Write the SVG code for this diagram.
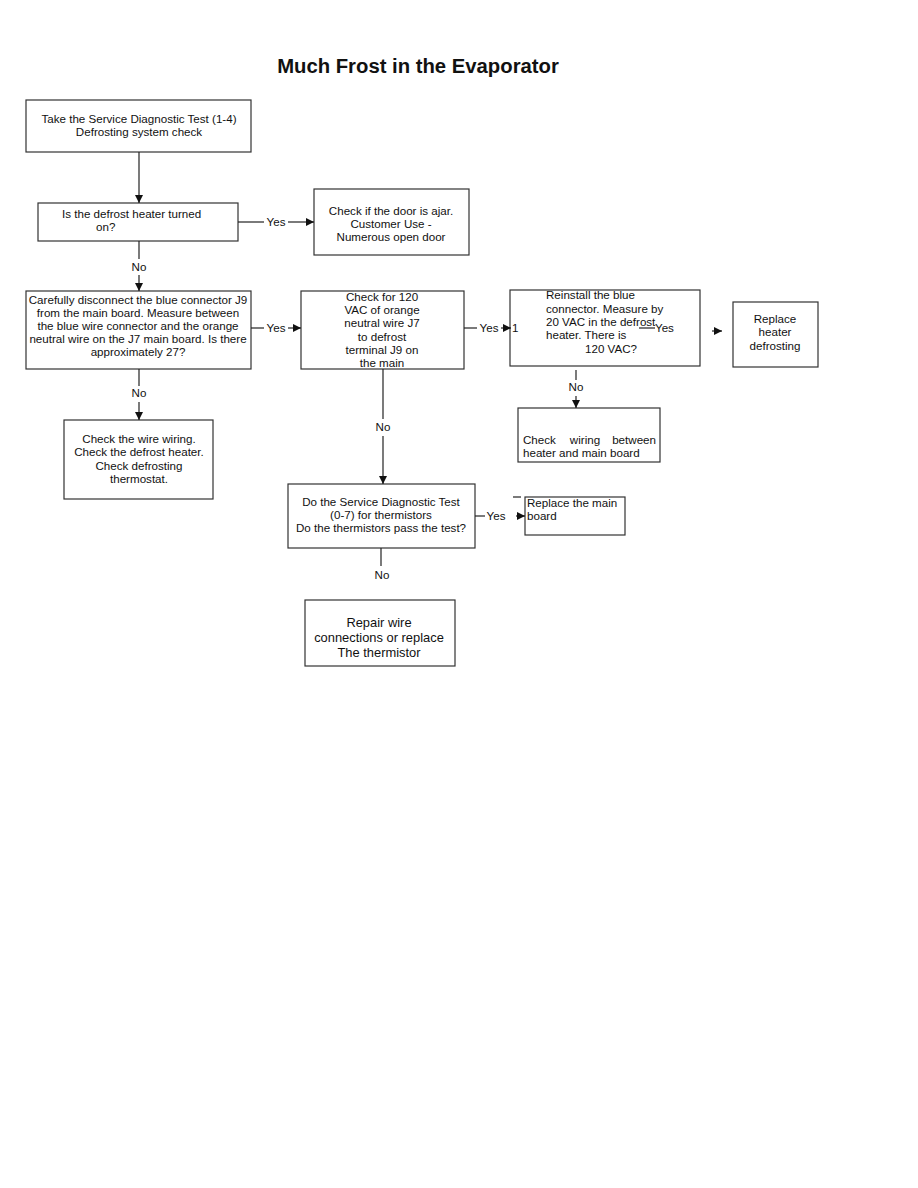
<svg xmlns="http://www.w3.org/2000/svg" width="918" height="1188" viewBox="0 0 918 1188">
<style>
.box{fill:#fff;stroke:#333;stroke-width:1.2}
.t{font-family:"Liberation Sans",Arial,sans-serif;font-size:11.6px;fill:#111}
.c{text-anchor:middle}
.e{text-anchor:end}
.ln{stroke:#222;stroke-width:1.2;fill:none}
.big{font-size:12.9px}
</style>
<defs>
<marker id="ah" viewBox="0 0 10 10" refX="10" refY="5" markerWidth="8" markerHeight="8" markerUnits="userSpaceOnUse" orient="auto">
<path d="M0,0 L10,5 L0,10 z" fill="#111"/>
</marker>
</defs>
<rect width="918" height="1188" fill="#fff"/>
<text x="418" y="73" class="t c" style="font-size:20.3px;font-weight:bold">Much Frost in the Evaporator</text>

<g id="n1">
<rect class="box" x="26" y="100" width="225" height="52"/>
<text x="139" y="123" class="t c">Take the Service Diagnostic Test (1-4)</text>
<text x="139" y="136" class="t c">Defrosting system check</text>
</g>
<g id="n2">
<rect class="box" x="38" y="203" width="200" height="38"/>
<text x="62" y="218" class="t">Is the defrost heater turned</text>
<text x="96" y="231" class="t">on?</text>
</g>
<g id="n3">
<rect class="box" x="314" y="189" width="155" height="66"/>
<text x="391" y="215" class="t c">Check if the door is ajar.</text>
<text x="391" y="228" class="t c">Customer Use -</text>
<text x="391" y="241" class="t c">Numerous open door</text>
</g>
<g id="n4">
<rect class="box" x="26" y="291" width="225" height="78"/>
<text x="138" y="304" class="t c">Carefully disconnect the blue connector J9</text>
<text x="138" y="317" class="t c">from the main board. Measure between</text>
<text x="138" y="330" class="t c">the blue wire connector and the orange</text>
<text x="138" y="343" class="t c">neutral wire on the J7 main board. Is there</text>
<text x="138" y="356" class="t c">approximately 27?</text>
</g>
<g id="n5">
<rect class="box" x="301" y="291" width="163" height="78"/>
<text x="382" y="301" class="t c">Check for 120</text>
<text x="382" y="314" class="t c">VAC of orange</text>
<text x="382" y="327" class="t c">neutral wire J7</text>
<text x="382" y="341" class="t c">to defrost</text>
<text x="382" y="354" class="t c">terminal J9 on</text>
<text x="382" y="367" class="t c">the main</text>
</g>
<g id="n6">
<rect class="box" x="510" y="290" width="190" height="76"/>
<text x="546" y="299" class="t">Reinstall the blue</text>
<text x="546" y="313" class="t">connector. Measure by</text>
<text x="546" y="326" class="t">20 VAC in the defrost</text>
<text x="546" y="339" class="t">heater. There is</text>
<text x="611" y="353" class="t c">120 VAC?</text>
</g>
<g id="n7">
<rect class="box" x="733" y="302" width="85" height="65"/>
<text x="775" y="323" class="t c">Replace</text>
<text x="775" y="336" class="t c">heater</text>
<text x="775" y="350" class="t c">defrosting</text>
</g>
<g id="n8">
<rect class="box" x="518" y="408" width="142" height="54"/>
<text x="523" y="444" class="t">Check</text>
<text x="585" y="444" class="t c">wiring</text>
<text x="656" y="444" class="t e">between</text>
<text x="523" y="457" class="t">heater and main board</text>
</g>
<g id="n9">
<rect class="box" x="64" y="420" width="149" height="79"/>
<text x="139" y="443" class="t c">Check the wire wiring.</text>
<text x="139" y="456" class="t c">Check the defrost heater.</text>
<text x="139" y="470" class="t c">Check defrosting</text>
<text x="139" y="483" class="t c">thermostat.</text>
</g>
<g id="n10">
<rect class="box" x="288" y="484" width="187" height="64"/>
<text x="381" y="506" class="t c">Do the Service Diagnostic Test</text>
<text x="381" y="519" class="t c">(0-7) for thermistors</text>
<text x="381" y="532" class="t c">Do the thermistors pass the test?</text>
</g>
<g id="n11">
<rect class="box" x="525" y="497" width="100" height="38"/>
<text x="527" y="507" class="t">Replace the main</text>
<text x="527" y="520" class="t">board</text>
</g>
<g id="n12">
<rect class="box" x="305" y="600" width="150" height="66"/>
<text x="379" y="627" class="t c big">Repair wire</text>
<text x="379" y="642" class="t c big">connections or replace</text>
<text x="379" y="657" class="t c big">The thermistor</text>
</g>

<g id="connectors">
<line class="ln" x1="139" y1="152" x2="139" y2="203" marker-end="url(#ah)"/>
<line class="ln" x1="238" y1="222" x2="264" y2="222"/>
<text x="276" y="226" class="t c">Yes</text>
<line class="ln" x1="288" y1="222" x2="314" y2="222" marker-end="url(#ah)"/>
<line class="ln" x1="139" y1="241" x2="139" y2="259"/>
<text x="139" y="271" class="t c">No</text>
<line class="ln" x1="139" y1="275" x2="139" y2="291" marker-end="url(#ah)"/>
<line class="ln" x1="251" y1="328" x2="264" y2="328"/>
<text x="276" y="332" class="t c">Yes</text>
<line class="ln" x1="288" y1="328" x2="301" y2="328" marker-end="url(#ah)"/>
<line class="ln" x1="464" y1="328" x2="477" y2="328"/>
<text x="489" y="332" class="t c">Yes</text>
<line class="ln" x1="501" y1="328" x2="511" y2="328" marker-end="url(#ah)"/>
<text x="512" y="332" class="t">1</text>
<line class="ln" x1="639" y1="328" x2="655" y2="328"/>
<text x="655" y="332" class="t">Yes</text>
<line class="ln" x1="712" y1="331" x2="722" y2="331" marker-end="url(#ah)"/>
<line class="ln" x1="576" y1="370" x2="576" y2="380"/>
<text x="576" y="391" class="t c">No</text>
<line class="ln" x1="576" y1="396" x2="576" y2="408" marker-end="url(#ah)"/>
<line class="ln" x1="139" y1="369" x2="139" y2="386"/>
<text x="139" y="397" class="t c">No</text>
<line class="ln" x1="139" y1="402" x2="139" y2="420" marker-end="url(#ah)"/>
<line class="ln" x1="383" y1="369" x2="383" y2="419"/>
<text x="383" y="431" class="t c">No</text>
<line class="ln" x1="383" y1="436" x2="383" y2="484" marker-end="url(#ah)"/>
<line class="ln" x1="475" y1="516" x2="485" y2="516"/>
<text x="496" y="520" class="t c">Yes</text>
<line class="ln" x1="513" y1="497" x2="521" y2="497"/>
<line class="ln" x1="516" y1="516" x2="525" y2="516" marker-end="url(#ah)"/>
<line class="ln" x1="381" y1="548" x2="381" y2="566"/>
<text x="382" y="579" class="t c">No</text>
</g>
</svg>
